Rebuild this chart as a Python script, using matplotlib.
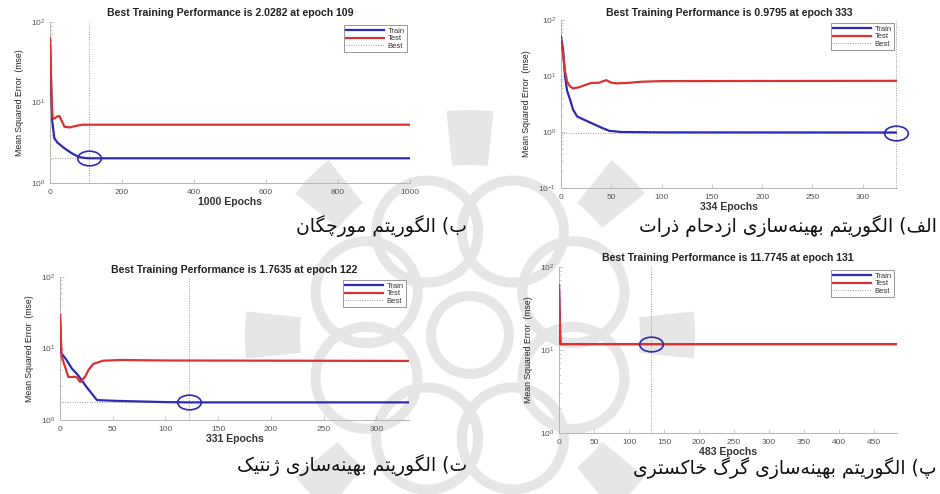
import math
import matplotlib
matplotlib.use("Agg")
import matplotlib.pyplot as plt
from matplotlib.path import Path
from matplotlib.transforms import Affine2D
from matplotlib.patches import Wedge
from matplotlib.lines import Line2D

plt.rcParams['font.family'] = ['Liberation Sans', 'DejaVu Sans']
plt.rcParams['mathtext.default'] = 'regular'

# ---------------- data ----------------
# (a) particle swarm optimisation, 334 epochs
pso_epochs_train = [0, 2, 4, 6, 9, 12, 16, 20, 30, 40, 48, 60, 100, 333]
pso_train = [50, 30, 10, 5.5, 3.8, 2.5, 1.9, 1.75, 1.45, 1.2, 1.05, 1.0, 0.985, 0.9795]
pso_epochs_test = [0, 2, 4, 6, 9, 12, 18, 25, 30, 38, 42, 45, 50, 55, 65, 80, 100, 333]
pso_test = [45, 25, 12, 8, 6.5, 6.0, 6.3, 7.0, 7.5, 7.6, 8.1, 8.4, 7.6, 7.4, 7.5, 7.9, 8.1, 8.2]
pso_best = (333, 0.9795)

# (b) ant colony, 1000 epochs
aco_epochs_train = [0, 3, 6, 12, 20, 40, 60, 80, 100, 109, 1000]
aco_train = [60, 18, 6.0, 3.6, 3.2, 2.7, 2.35, 2.1, 2.04, 2.0282, 2.0282]
aco_epochs_test = [0, 2, 4, 7, 12, 20, 26, 32, 40, 55, 70, 90, 1000]
aco_test = [63, 30, 12, 6.5, 6.3, 6.7, 6.8, 6.0, 5.0, 4.9, 5.1, 5.3, 5.3]
aco_best = (109, 2.0282)

# (c) grey wolf optimiser, 483 epochs
gwo_epochs_train = [0, 2, 483]
gwo_train = [60, 11.7745, 11.7745]
gwo_epochs_test = [0, 2, 483]
gwo_test = [60, 11.7745, 11.7745]
gwo_best = (131, 11.7745)

# (d) genetic algorithm, 331 epochs
ga_epochs_train = [0, 1, 6, 11, 17, 25, 35, 54, 100, 122, 331]
ga_train = [29, 8.7, 7.0, 5.3, 4.26, 2.92, 1.9, 1.85, 1.78, 1.7635, 1.7635]
ga_epochs_test = [0, 1.6, 4.7, 7.9, 15.8, 19, 23.7, 27, 31.6, 41, 57, 100, 331]
ga_test = [29, 7.7, 5.6, 4.0, 4.0, 3.4, 4.0, 5.0, 6.1, 6.75, 6.9, 6.8, 6.7]
ga_best = (122, 1.7635)

captions = {
    'aco': 'ب) الگوریتم مورچگان',
    'pso': 'الف) الگوریتم بهینه‌سازی ازدحام ذرات',
    'ga': 'ت) الگوریتم بهینه‌سازی ژنتیک',
    'gwo': 'پ) الگوریتم بهینه‌سازی گرگ خاکستری',
}

# ---------------- Persian shaping ----------------
FORMS = {
    'ا': ('\uFE8D', '\uFE8E', None, None),
    'ب': ('\uFE8F', '\uFE90', '\uFE91', '\uFE92'),
    'پ': ('\uFB56', '\uFB57', '\uFB58', '\uFB59'),
    'ت': ('\uFE95', '\uFE96', '\uFE97', '\uFE98'),
    'ح': ('\uFEA1', '\uFEA2', '\uFEA3', '\uFEA4'),
    'خ': ('\uFEA5', '\uFEA6', '\uFEA7', '\uFEA8'),
    'د': ('\uFEA9', '\uFEAA', None, None),
    'ذ': ('\uFEAB', '\uFEAC', None, None),
    'ر': ('\uFEAD', '\uFEAE', None, None),
    'ز': ('\uFEAF', '\uFEB0', None, None),
    'ژ': ('\uFB8A', '\uFB8B', None, None),
    'س': ('\uFEB1', '\uFEB2', '\uFEB3', '\uFEB4'),
    'ف': ('\uFED1', '\uFED2', '\uFED3', '\uFED4'),
    'ک': ('\uFB8E', '\uFB8F', '\uFB90', '\uFB91'),
    'گ': ('\uFB92', '\uFB93', '\uFB94', '\uFB95'),
    'ل': ('\uFEDD', '\uFEDE', '\uFEDF', '\uFEE0'),
    'م': ('\uFEE1', '\uFEE2', '\uFEE3', '\uFEE4'),
    'ن': ('\uFEE5', '\uFEE6', '\uFEE7', '\uFEE8'),
    'ه': ('\uFEE9', '\uFEEA', '\uFEEB', '\uFEEC'),
    'و': ('\uFEED', '\uFEEE', None, None),
    'ی': ('\uFBFC', '\uFBFD', '\uFBFE', '\uFBFF'),
    'چ': ('\uFB7A', '\uFB7B', '\uFB7C', '\uFB7D'),
}
MIRROR = {'(': ')', ')': '('}


def rtl(text):
    out = []
    for i, ch in enumerate(text):
        if ch not in FORMS:
            if ch != '\u200c':
                out.append(ch)
            continue
        prev = text[i - 1] if i > 0 else None
        nxt = text[i + 1] if i + 1 < len(text) else None
        iso, fin, ini, med = FORMS[ch]
        jp = prev in FORMS and FORMS[prev][2] is not None
        jn = nxt in FORMS and ini is not None
        if jp and jn:
            out.append(med)
        elif jp:
            out.append(fin)
        elif jn:
            out.append(ini)
        else:
            out.append(iso)
    return ''.join(MIRROR.get(c, c) for c in reversed(out))


# ---------------- figure ----------------
W, H = 940, 494
fig = plt.figure(figsize=(W / 100, H / 100), dpi=100, facecolor='white')

# background emblem
bg = fig.add_axes([0, 0, 1, 1], zorder=-5)
bg.set_xlim(0, W)
bg.set_ylim(H, 0)
bg.axis('off')
wm = '#e6e6e6'
cx, cy = 470, 335
bg.add_patch(Wedge((cx, cy), 44, 0, 360, width=10, color=wm, lw=0))
for k in range(8):
    a = math.radians(22.5 + 45 * k)
    px, py = cx + 112 * math.cos(a), cy + 112 * math.sin(a)
    bg.add_patch(Wedge((px, py), 56, 0, 360, width=10, color=wm, lw=0))
for k in range(8):
    a = 45 * k
    bg.add_patch(Wedge((cx, cy), 225, a - 6, a + 6, width=55, color=wm, lw=0))

BLUE = '#2b2bb5'
RED = '#d83232'
GREY = '#9a9a9a'
ell = Path.unit_circle().transformed(Affine2D().scale(1.0, 0.62))


def panel(rect, ep_tr, tr, ep_te, te, best, xmax, xticks, ylim, n_ep, title_pad):
    ax = fig.add_axes(rect)
    ax.set_facecolor('none')
    ax.semilogy(ep_tr, tr, color=BLUE, lw=1.6, zorder=3)
    ax.semilogy(ep_te, te, color=RED, lw=1.6, zorder=4)
    bx, by = best
    ax.axvline(bx, color=GREY, lw=0.7, ls=(0, (1, 1.5)), zorder=2)
    ax.plot([0, bx], [by, by], color=GREY, lw=0.7, ls=(0, (1, 1.5)), zorder=2)
    ax.plot([bx], [by], marker=ell, ms=17, mfc='none', mec=BLUE, mew=1.2,
            zorder=5, clip_on=False)
    ax.set_xlim(0, xmax)
    ax.set_ylim(*ylim)
    ax.set_xticks(xticks)
    for s in ('top', 'right'):
        ax.spines[s].set_visible(False)
    for s in ('left', 'bottom'):
        ax.spines[s].set_color('#b5b5b5')
        ax.spines[s].set_linewidth(0.7)
    ax.tick_params(which='both', direction='in', colors='#b5b5b5',
                   labelcolor='#555555', labelsize=6, width=0.5)
    ax.tick_params(which='major', length=3)
    ax.tick_params(which='minor', length=1.5)
    ax.tick_params(axis='x', pad=4)
    ax.set_title(f'Best Training Performance is {by} at epoch {bx}',
                 fontsize=7.6, fontweight='bold', color='#222222', pad=title_pad)
    ax.set_xlabel(f'{n_ep} Epochs', fontsize=7.6, fontweight='bold',
                  color='#333333', labelpad=1)
    ax.set_ylabel('Mean Squared Error  (mse)', fontsize=6.3, color='#222222',
                  labelpad=5)
    handles = [Line2D([], [], color=BLUE, lw=1.6),
               Line2D([], [], color=RED, lw=1.6),
               Line2D([], [], color=GREY, lw=0.7, ls=(0, (1, 1.5)))]
    leg = ax.legend(handles, ['Train', 'Test', 'Best'], loc='upper right',
                    fontsize=5.5, handlelength=5, labelspacing=0.05,
                    borderpad=0.3, handletextpad=0.4, fancybox=False,
                    framealpha=1, edgecolor='#888888', borderaxespad=0.4)
    leg.get_frame().set_linewidth(0.6)
    for t in leg.get_texts():
        t.set_color('#333333')
    return ax


def frac(left, top, right, bottom):
    return [left / W, 1 - bottom / H, (right - left) / W, (bottom - top) / H]


panel(frac(50, 22, 410, 183), aco_epochs_train, aco_train, aco_epochs_test,
      aco_test, aco_best, 1000, range(0, 1001, 200), (1, 100), 1000, 4)
panel(frac(561, 20, 897, 188), pso_epochs_train, pso_train, pso_epochs_test,
      pso_test, pso_best, 334, range(0, 301, 50), (0.1, 100), 334, 3)
panel(frac(60, 277, 409, 420), ga_epochs_train, ga_train, ga_epochs_test,
      ga_test, ga_best, 331, range(0, 301, 50), (1, 100), 331, 3)
panel(frac(559, 267, 897, 433), gwo_epochs_train, gwo_train, gwo_epochs_test,
      gwo_test, gwo_best, 483, range(0, 451, 50), (1, 100), 483, 4)

cap_kw = dict(fontsize=13.5, family=['DejaVu Sans'], color='#111111',
              ha='right', va='center')
fig.text(467 / W, 1 - 226 / H, rtl(captions['aco']), **cap_kw)
fig.text(937 / W, 1 - 226 / H, rtl(captions['pso']), **cap_kw)
fig.text(467 / W, 1 - 465 / H, rtl(captions['ga']), **cap_kw)
fig.text(937 / W, 1 - 468 / H, rtl(captions['gwo']), **cap_kw)

fig.savefig('out.png', dpi=100, facecolor='white')
